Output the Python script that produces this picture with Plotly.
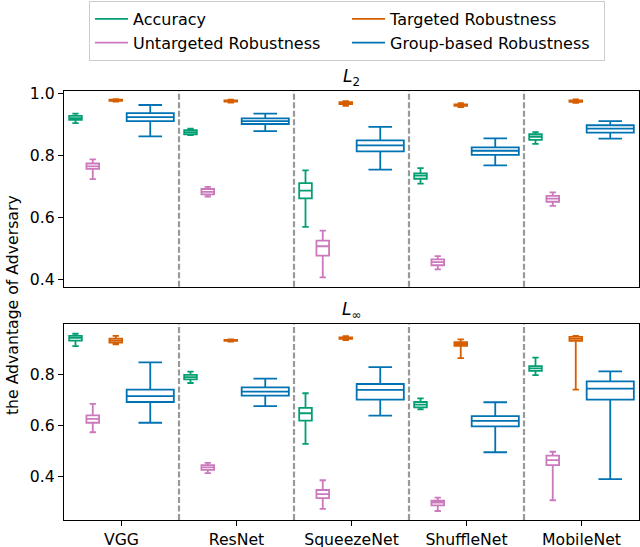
import plotly.graph_objects as go
from plotly.subplots import make_subplots

models = ["VGG", "ResNet", "SqueezeNet", "ShuffleNet", "MobileNet"]
series = ["Accuracy", "Untargeted Robustness", "Targeted Robustness", "Group-based Robustness"]
colors = ["#029e73", "#cc78bc", "#d55e00", "#0173b2"]
offsets = [-0.4, -0.25, -0.05, 0.25]
widths = [0.11, 0.11, 0.11, 0.41]
legend_rank = [1, 3, 2, 4]

# L2 panel: [lowerfence, q1, median, q3, upperfence] per model
l2_acc = [[0.904, 0.914, 0.920, 0.927, 0.934], [0.865, 0.868, 0.875, 0.881, 0.886],
          [0.570, 0.662, 0.687, 0.711, 0.752], [0.709, 0.725, 0.735, 0.742, 0.759],
          [0.837, 0.850, 0.860, 0.868, 0.875]]
l2_untg = [[0.724, 0.757, 0.765, 0.774, 0.787], [0.668, 0.675, 0.683, 0.692, 0.699],
           [0.408, 0.478, 0.508, 0.526, 0.558], [0.434, 0.447, 0.457, 0.466, 0.476],
           [0.638, 0.651, 0.661, 0.670, 0.681]]
l2_tg = [[0.973, 0.975, 0.977, 0.979, 0.981], [0.970, 0.973, 0.975, 0.977, 0.979],
         [0.959, 0.965, 0.968, 0.971, 0.974], [0.955, 0.959, 0.961, 0.964, 0.968],
         [0.969, 0.972, 0.975, 0.977, 0.980]]
l2_grp = [[0.861, 0.910, 0.923, 0.936, 0.962], [0.878, 0.901, 0.910, 0.919, 0.934],
          [0.754, 0.813, 0.832, 0.848, 0.892], [0.768, 0.802, 0.815, 0.826, 0.855],
          [0.854, 0.873, 0.886, 0.897, 0.910]]

# L-infinity panel
li_acc = [[0.909, 0.930, 0.941, 0.949, 0.957], [0.765, 0.779, 0.788, 0.797, 0.809],
          [0.528, 0.618, 0.647, 0.668, 0.725], [0.662, 0.670, 0.681, 0.691, 0.705],
          [0.796, 0.812, 0.822, 0.831, 0.864]]
li_untg = [[0.573, 0.610, 0.625, 0.639, 0.684], [0.414, 0.426, 0.436, 0.445, 0.454],
           [0.274, 0.316, 0.332, 0.348, 0.386], [0.266, 0.288, 0.299, 0.306, 0.318],
           [0.308, 0.445, 0.464, 0.482, 0.497]]
li_tg = [[0.916, 0.922, 0.930, 0.938, 0.949], [0.926, 0.929, 0.931, 0.933, 0.935],
         [0.932, 0.937, 0.940, 0.943, 0.948], [0.862, 0.910, 0.917, 0.924, 0.935],
         [0.739, 0.929, 0.937, 0.945, 0.949]]
li_grp = [[0.610, 0.691, 0.714, 0.739, 0.845], [0.675, 0.716, 0.731, 0.748, 0.782],
          [0.638, 0.700, 0.738, 0.761, 0.827], [0.495, 0.596, 0.617, 0.636, 0.690],
          [0.390, 0.700, 0.743, 0.771, 0.810]]

panels = [[l2_acc, l2_untg, l2_tg, l2_grp], [li_acc, li_untg, li_tg, li_grp]]

fig = make_subplots(rows=2, cols=1, vertical_spacing=0.087)

for r, panel in enumerate(panels, start=1):
    for k, stats in enumerate(panel):
        fig.add_trace(go.Box(
            x=[i + offsets[k] for i in range(len(models))],
            lowerfence=[s[0] for s in stats], q1=[s[1] for s in stats],
            median=[s[2] for s in stats], q3=[s[3] for s in stats],
            upperfence=[s[4] for s in stats],
            width=widths[k], whiskerwidth=0.5,
            line=dict(color=colors[k], width=1.8),
            fillcolor="rgba(255,255,255,0)",
            showlegend=False, name=series[k], boxpoints=False,
        ), row=r, col=1)

for k in range(4):
    fig.add_trace(go.Scatter(x=[None], y=[None], mode="lines", name=series[k],
                             line=dict(color=colors[k], width=1.8),
                             legendrank=legend_rank[k]), row=1, col=1)

for r in (1, 2):
    for i in range(len(models) - 1):
        yref = "y domain" if r == 1 else "y2 domain"
        xref = "x" if r == 1 else "x2"
        fig.add_shape(type="line", x0=i + 0.5, x1=i + 0.5, y0=0, y1=1,
                      xref=xref, yref=yref,
                      line=dict(color="#999999", width=2.2, dash="6px,2.5px"))

axis_common = dict(showline=True, linecolor="black", linewidth=1.3, mirror=True,
                   showgrid=False, zeroline=False, ticks="outside", ticklen=5,
                   tickcolor="black", tickfont=dict(size=15.7, color="black"))
fig.update_xaxes(range=[-0.5, 4.5], tickvals=list(range(len(models))), ticktext=models,
                 **axis_common)
fig.update_xaxes(showticklabels=False, ticks="", row=1, col=1)
fig.update_yaxes(**axis_common)
fig.update_yaxes(range=[0.378, 1.007], tickvals=[0.4, 0.6, 0.8, 1.0], tickformat=".1f",
                 domain=[0.5438, 1.0], row=1, col=1)
fig.update_yaxes(range=[0.231, 0.995], tickvals=[0.4, 0.6, 0.8], tickformat=".1f",
                 domain=[0.0, 0.4569], row=2, col=1)

fig.add_annotation(text="<i>L</i><sub>2</sub>", x=0.5, y=1.032, xref="paper", yref="paper",
                   showarrow=False, font=dict(size=17, color="black"), yanchor="middle")
fig.add_annotation(text="<i>L</i><sub>∞</sub>", x=0.5, y=0.4885, xref="paper", yref="paper",
                   showarrow=False, font=dict(size=17, color="black"), yanchor="middle")
fig.add_annotation(text="the Advantage of Adversary", x=-0.0904, y=0.501, xref="paper",
                   yref="paper", textangle=-90, showarrow=False,
                   font=dict(size=15.7, color="black"), xanchor="center", yanchor="middle")

fig.update_layout(
    width=640, height=547,
    margin=dict(l=64, r=1, t=91, b=27, autoexpand=False),
    plot_bgcolor="white", paper_bgcolor="white",
    font=dict(family="DejaVu Sans", color="black"),
    boxmode="overlay",
    legend=dict(orientation="h", x=0.0435, y=1.2098, xanchor="left", yanchor="top",
                entrywidth=209, entrywidthmode="pixels", itemwidth=33,
                bordercolor="#cccccc", borderwidth=1, font=dict(size=16),
                tracegroupgap=0),
)

fig.write_html("out.html", config={"displayModeBar": False},
               post_script="document.body.style.margin='0';document.body.style.overflow='hidden';")
